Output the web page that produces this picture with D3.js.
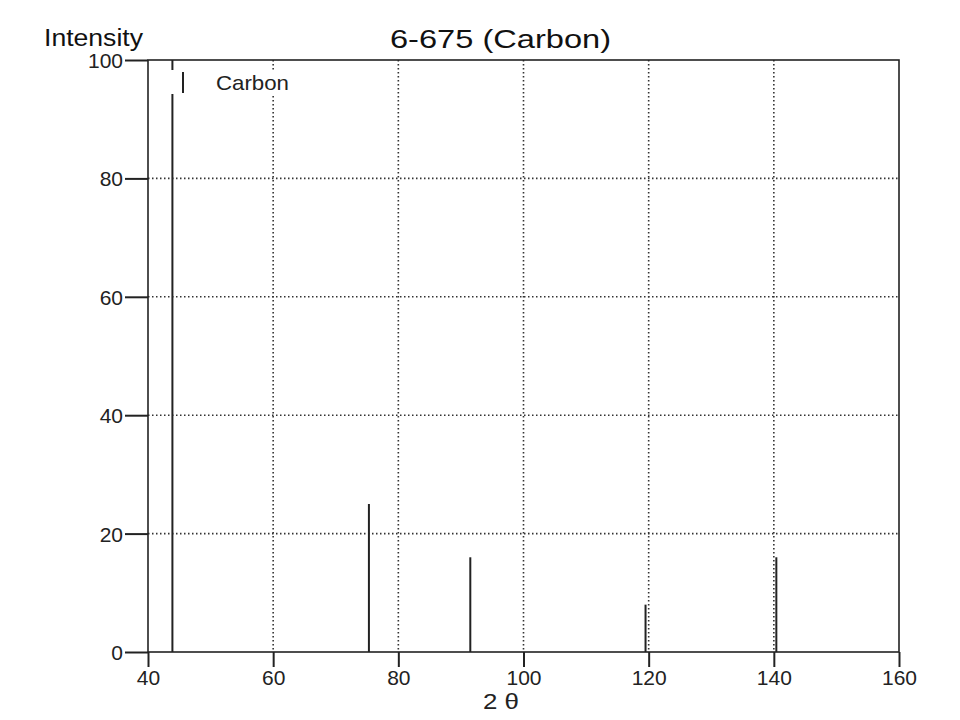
<!DOCTYPE html>
<html><head><meta charset="utf-8">
<script src="https://cdn.jsdelivr.net/npm/d3@7"></script>
<style>body{margin:0;background:#fff}svg{display:block}</style>
</head><body>
<svg id="c" width="960" height="720"></svg>
<script>
const title = "6-675 (Carbon)";
const seriesName = "Carbon";
const peaks2Theta = [43.9, 75.3, 91.5, 119.5, 140.4];
const intensities = [100, 25, 16, 8, 16];
const xTicks = [40, 60, 80, 100, 120, 140, 160];
const yTicks = [0, 20, 40, 60, 80, 100];

const svg = d3.select("#c");
const font = "'Liberation Sans', Arial, sans-serif";
const L = 148, R = 899, T = 60, B = 652;
const x = d3.scaleLinear().domain([40, 160]).range([L, R]);
const y = d3.scaleLinear().domain([0, 100]).range([B, T]);

// grid
const g = svg.append("g");
g.selectAll("line.vg").data(xTicks.filter(d => d > 40 && d < 160)).join("line")
  .attr("x1", d => x(d)).attr("x2", d => x(d)).attr("y1", T).attr("y2", B)
  .attr("stroke", "#333").attr("stroke-width", 1.6).attr("stroke-dasharray", "1.5,2.5");
g.selectAll("line.hg").data(yTicks.filter(d => d > 0 && d < 100)).join("line")
  .attr("x1", L).attr("x2", R).attr("y1", d => y(d)).attr("y2", d => y(d))
  .attr("stroke", "#333").attr("stroke-width", 1.6).attr("stroke-dasharray", "1.5,2.5");

// bars
svg.append("g").selectAll("line").data(peaks2Theta).join("line")
  .attr("x1", d => x(d)).attr("x2", d => x(d))
  .attr("y1", y(0)).attr("y2", (d, i) => y(intensities[i]))
  .attr("stroke", "#222").attr("stroke-width", 2);

// frame
svg.append("rect").attr("x", L).attr("y", T).attr("width", R - L).attr("height", B - T)
  .attr("fill", "none").attr("stroke", "#222").attr("stroke-width", 1.6);

// axes
const xa = svg.append("g").attr("transform", `translate(0,${B})`)
  .call(d3.axisBottom(x).tickValues(xTicks).tickSize(15).tickPadding(3).tickFormat(d3.format("d")));
const ya = svg.append("g").attr("transform", `translate(${L},0)`)
  .call(d3.axisLeft(y).tickValues(yTicks).tickSize(23).tickPadding(2).tickFormat(d3.format("d")));
[xa, ya].forEach(a => {
  a.select(".domain").remove();
  a.selectAll(".tick line").attr("stroke", "#222").attr("stroke-width", 2);
  a.selectAll(".tick text").attr("fill", "#222").style("font-family", font).style("font-size", "21px");
});
ya.selectAll(".tick text").attr("dy", "0.36em");

// legend
const lg = svg.append("g");
lg.append("rect").attr("x", 166).attr("y", 70).attr("width", 128).attr("height", 24).attr("fill", "#fff");
lg.append("line").attr("x1", 183).attr("x2", 183).attr("y1", 72).attr("y2", 93)
  .attr("stroke", "#222").attr("stroke-width", 2);
lg.append("text").attr("x", 216).attr("y", 90).text(seriesName)
  .attr("textLength", 73).attr("lengthAdjust", "spacingAndGlyphs")
  .style("font-family", font).style("font-size", "21px").attr("fill", "#222");

// titles
svg.append("text").attr("x", 390).attr("y", 48).text(title)
  .attr("textLength", 221).attr("lengthAdjust", "spacingAndGlyphs")
  .style("font-family", font).style("font-size", "26px").attr("fill", "#111");
svg.append("text").attr("x", 44).attr("y", 46).text("Intensity")
  .attr("textLength", 99).attr("lengthAdjust", "spacingAndGlyphs")
  .style("font-family", font).style("font-size", "23px").attr("fill", "#111");
svg.append("text").attr("x", 483).attr("y", 709).text("2 θ")
  .attr("textLength", 36).attr("lengthAdjust", "spacingAndGlyphs")
  .style("font-family", font).style("font-size", "22px").attr("fill", "#222");
</script>
</body></html>
